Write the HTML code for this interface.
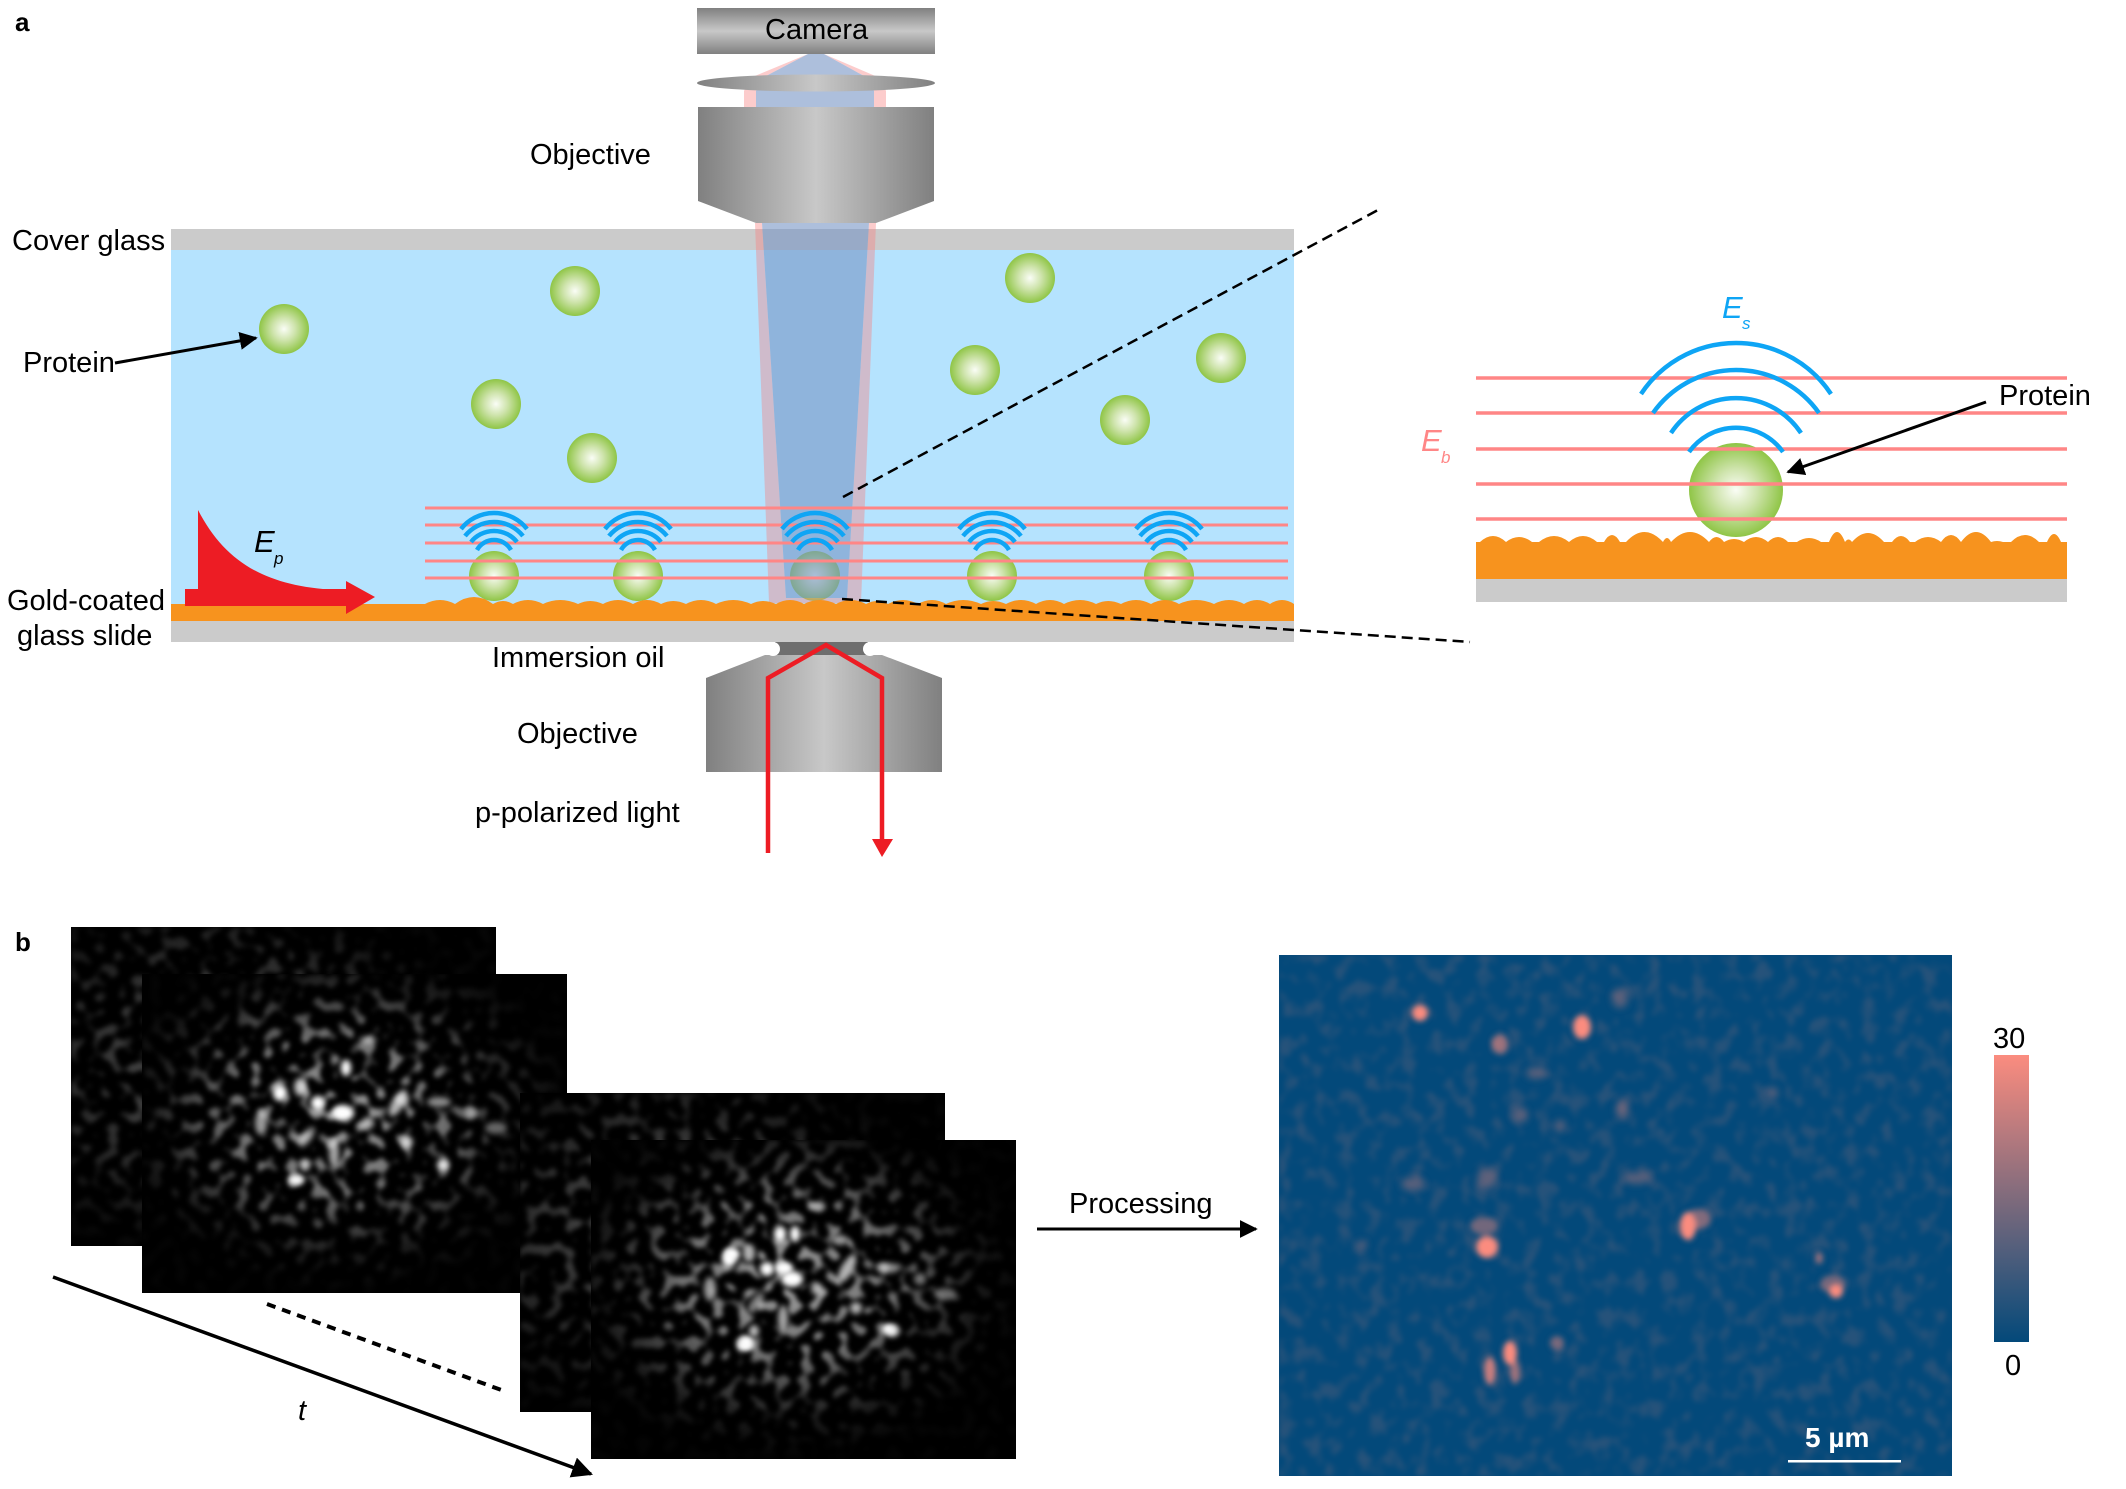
<!DOCTYPE html>
<html><head><meta charset="utf-8"><style>
html,body{margin:0;padding:0;background:#fff}
svg{display:block}
text{font-family:"Liberation Sans",Arial,sans-serif;font-size:29px;fill:#000}
.i{font-style:italic}
</style></head><body>
<svg xmlns="http://www.w3.org/2000/svg" width="2126" height="1489" viewBox="0 0 2126 1489">
<defs>
<linearGradient id="gv" x1="0" y1="0" x2="0" y2="1"><stop offset="0" stop-color="#808080"/><stop offset=".5" stop-color="#c8c8c8"/><stop offset="1" stop-color="#808080"/></linearGradient>
<linearGradient id="gh" x1="0" y1="0" x2="1" y2="0"><stop offset="0" stop-color="#808080"/><stop offset=".5" stop-color="#c8c8c8"/><stop offset="1" stop-color="#808080"/></linearGradient>
<radialGradient id="pg"><stop offset="0" stop-color="#fafdf6"/><stop offset=".45" stop-color="#cfe4ad"/><stop offset="1" stop-color="#8fc546"/></radialGradient>
<linearGradient id="cb" x1="0" y1="0" x2="0" y2="1"><stop offset="0" stop-color="#fb8c7f"/><stop offset="1" stop-color="#03497a"/></linearGradient>
<marker id="ah" viewBox="0 0 10 10" refX="9" refY="5" markerWidth="6" markerHeight="6" orient="auto"><path d="M0 0L10 5L0 10Z" fill="#000"/></marker>
<filter id="sp1" x="0" y="0" width="100%" height="100%" color-interpolation-filters="sRGB"><feTurbulence type="fractalNoise" baseFrequency=".075 .08" numOctaves="1" seed="3"/><feColorMatrix values="0 0 0 0 1 0 0 0 0 1 0 0 0 0 1 6 0 0 0 -3.05"/><feGaussianBlur stdDeviation="2"/></filter>
<filter id="sp2" x="0" y="0" width="100%" height="100%" color-interpolation-filters="sRGB"><feTurbulence type="fractalNoise" baseFrequency=".08 .075" numOctaves="1" seed="11"/><feColorMatrix values="0 0 0 0 1 0 0 0 0 1 0 0 0 0 1 6 0 0 0 -3.05"/><feGaussianBlur stdDeviation="2"/></filter>
<filter id="sp3" x="0" y="0" width="100%" height="100%" color-interpolation-filters="sRGB"><feTurbulence type="fractalNoise" baseFrequency=".078" numOctaves="1" seed="23"/><feColorMatrix values="0 0 0 0 1 0 0 0 0 1 0 0 0 0 1 6 0 0 0 -3.05"/><feGaussianBlur stdDeviation="2"/></filter>
<filter id="sp4" x="0" y="0" width="100%" height="100%" color-interpolation-filters="sRGB"><feTurbulence type="fractalNoise" baseFrequency=".08" numOctaves="1" seed="37"/><feColorMatrix values="0 0 0 0 1 0 0 0 0 1 0 0 0 0 1 6 0 0 0 -3"/><feGaussianBlur stdDeviation="2"/></filter>
<filter id="mp" x="0" y="0" width="100%" height="100%" color-interpolation-filters="sRGB"><feTurbulence type="fractalNoise" baseFrequency=".065 .055" numOctaves="2" seed="8"/><feColorMatrix values="0 0 0 0 .98 0 0 0 0 .55 0 0 0 0 .49 4 0 0 0 -1.9"/><feGaussianBlur stdDeviation="2.5"/></filter>
<filter id="b3" x="-50%" y="-50%" width="200%" height="200%"><feGaussianBlur stdDeviation="3"/></filter>
<filter id="b4" x="-80%" y="-80%" width="260%" height="260%"><feGaussianBlur stdDeviation="4"/></filter>
<radialGradient id="mg" cx=".46" cy=".44" r=".55"><stop offset="0" stop-color="#a0a0a0"/><stop offset=".45" stop-color="#707070"/><stop offset=".8" stop-color="#1c1c1c"/><stop offset="1" stop-color="#040404"/></radialGradient>
<radialGradient id="mg1" cx=".35" cy=".44" r=".6"><stop offset="0" stop-color="#555"/><stop offset=".5" stop-color="#333"/><stop offset="1" stop-color="#060606"/></radialGradient>
<mask id="m1" maskUnits="userSpaceOnUse" x="71" y="927" width="425" height="319"><rect x="71" y="927" width="425" height="319" fill="url(#mg1)"/></mask>
<mask id="m2" maskUnits="userSpaceOnUse" x="142" y="974" width="425" height="319"><rect x="142" y="974" width="425" height="319" fill="url(#mg)"/></mask>
<mask id="m3" maskUnits="userSpaceOnUse" x="520" y="1093" width="425" height="319"><rect x="520" y="1093" width="425" height="319" fill="url(#mg1)"/></mask>
<mask id="m4" maskUnits="userSpaceOnUse" x="591" y="1140" width="425" height="319"><rect x="591" y="1140" width="425" height="319" fill="url(#mg)"/></mask>
<g id="wv" fill="none" stroke="#0ea5f5" stroke-width="4.5"><path d="M-33 39A42 42 0 0 1 33 39"/><path d="M-29 46A37 37 0 0 1 29 46"/><path d="M-23 52A29.5 29.5 0 0 1 23 52"/><path d="M-17 60A19.5 19.5 0 0 1 17 60"/></g>
<g id="bl" fill="#fff" filter="url(#b3)">
<ellipse cx="280" cy="1093" rx="7" ry="8"/><ellipse cx="300" cy="1087" rx="6" ry="9" opacity=".7"/><ellipse cx="318" cy="1103" rx="7" ry="7"/><ellipse cx="343" cy="1113" rx="11" ry="8"/><ellipse cx="346" cy="1068" rx="5" ry="8"/><ellipse cx="261" cy="1123" rx="6" ry="12" opacity=".6"/><ellipse cx="398" cy="1103" rx="6" ry="15" opacity=".7" transform="rotate(30 398 1103)"/><ellipse cx="439" cy="1102" rx="12" ry="5" opacity=".55"/><ellipse cx="368" cy="1123" rx="6" ry="6" opacity=".65"/><ellipse cx="407" cy="1142" rx="6" ry="6" opacity=".7"/><ellipse cx="443" cy="1165" rx="6" ry="6" opacity=".85"/><ellipse cx="296" cy="1180" rx="8" ry="5"/><ellipse cx="305" cy="1165" rx="5" ry="6" opacity=".75"/><ellipse cx="334" cy="1153" rx="5" ry="14" opacity=".65"/><ellipse cx="307" cy="1137" rx="5" ry="12" opacity=".5" transform="rotate(35 307 1137)"/><ellipse cx="368" cy="1040" rx="9" ry="4" opacity=".45"/><ellipse cx="471" cy="1113" rx="6" ry="6" opacity=".45"/><ellipse cx="496" cy="1128" rx="11" ry="6" opacity=".4"/>
</g>
</defs>

<!-- camera & upper optics -->
<rect x="697" y="8" width="238" height="46" fill="url(#gv)"/>
<path fill-rule="evenodd" fill="#f77f7f" fill-opacity=".4" d="M808 54L824 54L880 78L886 91V107H744V91L750 78ZM808 54L766 76L756 91V107H874V91L864 76L824 54Z"/>
<path fill="#7795c5" fill-opacity=".6" d="M808 54L824 54L864 76L874 91V107H756V91L766 76Z"/>
<ellipse cx="816" cy="83" rx="119" ry="8.5" fill="url(#gh)"/>
<path d="M698 107H934V201L876 223H756L698 201Z" fill="url(#gh)"/>
<text x="765" y="39">Camera</text>
<text x="530" y="164">Objective</text>

<!-- sample chamber -->
<rect x="171" y="229" width="1123" height="21" fill="#cbcbcb"/>
<rect x="171" y="250" width="1123" height="355" fill="#b5e3fe"/>
<rect x="171" y="621" width="1123" height="21" fill="#cbcbcb"/>
<rect x="171" y="604" width="1123" height="17" fill="#f7931e"/>

<g fill="url(#pg)">
<circle cx="284" cy="329" r="25"/><circle cx="575" cy="291" r="25"/><circle cx="496" cy="404" r="25"/><circle cx="592" cy="458" r="25"/><circle cx="1030" cy="278" r="25"/><circle cx="975" cy="370" r="25"/><circle cx="1125" cy="420" r="25"/><circle cx="1221" cy="358" r="25"/>
<circle cx="494" cy="576" r="25"/><circle cx="638" cy="576" r="25"/><circle cx="815" cy="576" r="25"/><circle cx="992" cy="576" r="25"/><circle cx="1169" cy="576" r="25"/>
</g>

<!-- light cone -->
<path fill-rule="evenodd" fill="#f77f7f" fill-opacity=".4" d="M755 223H876L861 603H769ZM762 223L786 598H847L869 223Z"/>
<path fill="#7795c5" fill-opacity=".6" d="M762 223H869L847 598H786Z"/>

<!-- rough gold -->
<path fill="#f7931e" d="M425 621V604q15 -8 30 0q19 -14 38 0q10 -6 20 0q15 -8 30 0q17 -8 35 0q12 -6 25 0q15 -8 30 0q14 -8 28 0q12 -6 25 0q15 -8 30 0q17 -8 35 0q12 -6 25 0q14 -8 28 0q16 -8 32 0q15 -8 30 0q11 -6 22 0q15 -8 30 0q14 -8 28 0q17 -8 35 0q12 -6 25 0q15 -8 30 0q14 -8 28 0q16 -8 32 0q12 -6 25 0q15 -8 30 0q14 -8 28 0q17 -8 35 0q15 -8 30 0q13 -8 26 0q12 -8 24 0V621Z"/>

<!-- red evanescent + arrow -->
<path d="M198 510C225 562 265 586 335 590L198 592Z" fill="#ed1c24"/>
<path d="M185 589H346V581L375 597L346 614V606H185Z" fill="#ed1c24"/>
<text class="i" x="254" y="552" style="font-size:31px">E</text>
<text class="i" x="274" y="564" style="font-size:17px">p</text>

<!-- red field lines -->
<g stroke="#ff8686" stroke-width="3">
<path d="M425 508H1288M425 525H1288M425 543H1288M425 561H1288M425 578H1288" fill="none"/>
</g>
<use href="#wv" x="494" y="490"/><use href="#wv" x="638" y="490"/><use href="#wv" x="815" y="490"/><use href="#wv" x="992" y="490"/><use href="#wv" x="1169" y="490"/>

<!-- bottom objective -->
<path d="M706 678L765 655H882L942 678V772H706Z" fill="url(#gh)"/>
<path d="M775 642H868V655H775Z" fill="#6e6e6e"/>
<circle cx="773" cy="649" r="7" fill="#fff"/><circle cx="870" cy="649" r="7" fill="#fff"/>
<path d="M768 853V678L826 645L882 678V842" fill="none" stroke="#ed1c24" stroke-width="4.5"/>
<path d="M872 839H893L882 857Z" fill="#ed1c24"/>

<!-- dashed zoom lines -->
<g stroke="#000" stroke-width="2.5" stroke-dasharray="11 6" fill="none">
<path d="M843 497L1378 210"/><path d="M842 599L1470 642"/>
</g>

<!-- left labels -->
<text x="15" y="31" style="font-size:26px;font-weight:bold">a</text>
<text x="12" y="250">Cover glass</text>
<text x="23" y="372">Protein</text>
<path d="M115 363L256 338" stroke="#000" stroke-width="3" fill="none" marker-end="url(#ah)"/>
<text x="7" y="610">Gold-coated</text>
<text x="17" y="645">glass slide</text>
<text x="492" y="667">Immersion oil</text>
<text x="517" y="743">Objective</text>
<text x="475" y="822">p-polarized light</text>

<!-- inset -->
<rect x="1476" y="579" width="591" height="23" fill="#cbcbcb"/>
<path fill="#f7931e" d="M1476 579V542q2 0 4 0q13 -12 26 0q13 -10 26 0q3.5 0 7 0q15 -12 30 0q14 -12 28 0q3.5 0 7 0q8 -14 16 0q3 0 6 0q18.5 -20 37 0q4 -8 8 0q19 -20 38 0q7.5 -10 15 0q10 -6 20 0q12 -10 24 0q10 -10 20 0q4.5 0 9 0q12 -8 24 0q4 0 8 0q8 -20 16 0q3.5 -5 7 0q16 -18 32 0q4 0 8 0q9 -12 18 0q2.5 0 5 0q13 -10 26 0q10 -14 20 0q15 -20 30 0q6 -2 12 0q4 0 8 0q14 -14 28 0q4 0 8 0q7 -16 14 0q3 0 6 0V579Z"/>
<ellipse cx="1736" cy="490" rx="47" ry="47" fill="url(#pg)"/>
<g stroke="#ff8686" stroke-width="3.5"><path d="M1476 378H2067M1476 413H2067M1476 449H2067M1476 484H2067M1476 519H2067" fill="none"/></g>
<g fill="none" stroke="#0ea5f5" stroke-width="4.5">
<path d="M1641 394A114 114 0 0 1 1831 394"/><path d="M1653 413A101.6 101.6 0 0 1 1819 413"/><path d="M1671 433A78 78 0 0 1 1801 433"/><path d="M1689 452A57.6 57.6 0 0 1 1783 452"/>
</g>
<text class="i" x="1722" y="318" style="font-size:31px;fill:#0ea5f5">E</text>
<text class="i" x="1742" y="329" style="font-size:17px;fill:#0ea5f5">s</text>
<text class="i" x="1421" y="451" style="font-size:31px;fill:#ff8686">E</text>
<text class="i" x="1441" y="463" style="font-size:17px;fill:#ff8686">b</text>
<text x="1999" y="405">Protein</text>
<path d="M1986 402L1788 472" stroke="#000" stroke-width="3" fill="none" marker-end="url(#ah)"/>

<!-- panel b -->
<text x="15" y="951" style="font-size:26px;font-weight:bold">b</text>
<rect x="71" y="927" width="425" height="319" fill="#000"/>
<g mask="url(#m1)"><rect x="71" y="927" width="425" height="319" fill="#fff" filter="url(#sp1)"/></g>
<rect x="142" y="974" width="425" height="319" fill="#000"/>
<g mask="url(#m2)"><rect x="142" y="974" width="425" height="319" fill="#fff" filter="url(#sp2)"/></g>
<use href="#bl"/>
<rect x="520" y="1093" width="425" height="319" fill="#000"/>
<g mask="url(#m3)"><rect x="520" y="1093" width="425" height="319" fill="#fff" filter="url(#sp3)"/></g>
<rect x="591" y="1140" width="425" height="319" fill="#000"/>
<g mask="url(#m4)"><rect x="591" y="1140" width="425" height="319" fill="#fff" filter="url(#sp4)"/></g>
<use href="#bl" x="449" y="166"/>
<g fill="#fff" filter="url(#b3)">
<ellipse cx="732" cy="1254" rx="8" ry="6"/><ellipse cx="780" cy="1234" rx="6" ry="8"/><ellipse cx="784" cy="1268" rx="9" ry="6"/><ellipse cx="746" cy="1342" rx="7" ry="6"/><ellipse cx="888" cy="1329" rx="6" ry="5"/><ellipse cx="840" cy="1240" rx="8" ry="5" opacity=".6"/>
</g>

<path d="M53 1277L591 1474" stroke="#000" stroke-width="3.5" fill="none" marker-end="url(#ah)"/>
<path d="M267 1304L504 1391" stroke="#000" stroke-width="4" stroke-dasharray="9 7" fill="none"/>
<text class="i" x="298" y="1420">t</text>

<text x="1069" y="1213">Processing</text>
<path d="M1037 1229H1256" stroke="#000" stroke-width="3" fill="none" marker-end="url(#ah)"/>

<!-- map -->
<rect x="1279" y="955" width="673" height="521" fill="#03497a"/>
<g opacity=".14"><rect x="1279" y="955" width="673" height="521" fill="#fff" filter="url(#mp)"/></g>
<g fill="#fb8c7f" filter="url(#b3)">
<ellipse cx="1420" cy="1013" rx="8" ry="8"/>
<ellipse cx="1582" cy="1027" rx="9" ry="12"/>
<ellipse cx="1500" cy="1044" rx="8" ry="10" opacity=".6"/>
<ellipse cx="1484" cy="1226" rx="14" ry="9" opacity=".45"/>
<ellipse cx="1487" cy="1247" rx="11" ry="11"/>
<ellipse cx="1698" cy="1219" rx="13" ry="10" opacity=".5"/>
<ellipse cx="1688" cy="1226" rx="8" ry="14"/>
<ellipse cx="1833" cy="1284" rx="13" ry="9" opacity=".45"/>
<ellipse cx="1836" cy="1291" rx="7" ry="7"/>
<ellipse cx="1819" cy="1258" rx="4" ry="6" opacity=".6"/>
<ellipse cx="1510" cy="1353" rx="7" ry="12"/>
<ellipse cx="1515" cy="1372" rx="5" ry="12" opacity=".6"/>
<ellipse cx="1490" cy="1371" rx="6" ry="14" opacity=".8"/>
<ellipse cx="1557" cy="1343" rx="7" ry="7" opacity=".45"/>
</g>
<g fill="#fb8c7f" filter="url(#b4)" opacity=".35">
<ellipse cx="1622" cy="1110" rx="6" ry="10"/><ellipse cx="1520" cy="1115" rx="8" ry="8"/><ellipse cx="1487" cy="1179" rx="10" ry="10"/><ellipse cx="1772" cy="1093" rx="6" ry="6"/><ellipse cx="1560" cy="1126" rx="6" ry="6"/><ellipse cx="1362" cy="1245" rx="5" ry="5"/><ellipse cx="1413" cy="1184" rx="12" ry="7"/><ellipse cx="1637" cy="1178" rx="14" ry="6"/><ellipse cx="1536" cy="1073" rx="10" ry="6"/><ellipse cx="1620" cy="998" rx="8" ry="10"/>
</g>
<text x="1805" y="1447" style="font-size:28px;font-weight:bold;fill:#fff">5 µm</text>
<rect x="1788" y="1460" width="113" height="2.5" fill="#fff"/>
<rect x="1994" y="1055" width="35" height="287" fill="url(#cb)"/>
<text x="1993" y="1048">30</text>
<text x="2005" y="1375">0</text>
</svg>
</body></html>
